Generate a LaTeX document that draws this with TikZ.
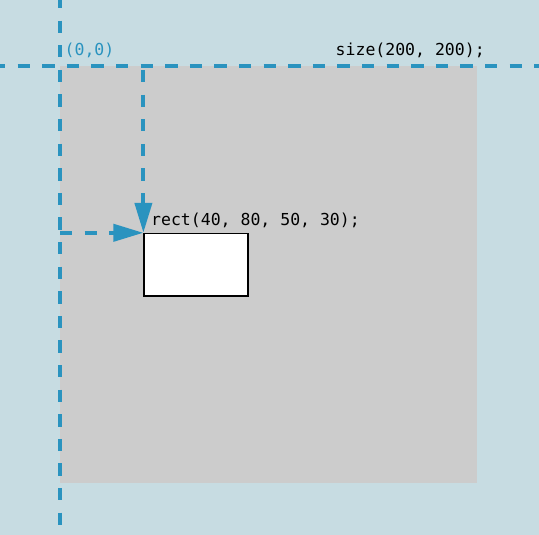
\documentclass[tikz,border=0pt]{standalone}
\usepackage{fontspec}
\setmonofont{DejaVu Sans Mono}
\usetikzlibrary{arrows.meta}
\definecolor{bgc}{HTML}{C7DCE2}
\definecolor{axisblue}{HTML}{2A93BF}
\definecolor{canvasgray}{HTML}{CCCCCC}
\tikzset{
  guide/.style={draw=axisblue, line width=4pt, dash pattern=on 12.3pt off 12.3pt},
  guidearrow/.style={guide, -{Triangle[length=30pt,width=17pt]}},
  codelabel/.style={anchor=base west, inner sep=0pt, font=\ttfamily\fontsize{16.5pt}{18pt}\selectfont},
}
\begin{document}
\begin{tikzpicture}[x=1pt,y=-1pt]
\fill[bgc] (0,0) rectangle (539,535);
\useasboundingbox (0,0) rectangle (539,535);
\fill[canvasgray] (60,66) rectangle (477,483);
% axes
\coordinate (htop) at (-7,66);
\coordinate (hend) at (545,66);
\coordinate (vtop) at (60,-4);
\coordinate (vend) at (60,540);
\draw[guide] (htop) -- (hend);
\draw[guide] (vtop) -- (vend);
% rectangle
\node[draw=black, fill=white, line width=1.6pt, minimum width=104pt, minimum height=62.5pt, inner sep=0pt, anchor=north west] (r) at (143.4,232.8) {};
% arrows
\coordinate (vstart) at (143.4,70);
\coordinate (hstart) at (60,232.8);
\draw[guidearrow] (vstart) -- (r.north west);
\draw[guidearrow] (hstart) -- (r.north west);
% labels
\node[codelabel, text=axisblue] (origin) at (64.5,55.5) {(0,0)};
\node[codelabel] (size) at (335.5,56) {size(200, 200);};
\node[codelabel] (rectlbl) at (151,225.5) {rect(40, 80, 50, 30);};
\end{tikzpicture}
\end{document}
